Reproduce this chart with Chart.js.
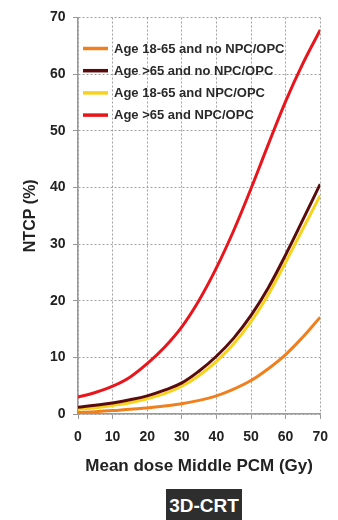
<!DOCTYPE html>
<html>
<head>
<meta charset="utf-8">
<script src="https://cdn.jsdelivr.net/npm/chart.js@4/dist/chart.umd.min.js"></script>
<style>
  html, body { margin: 0; padding: 0; background: #fff; }
  #wrap { position: relative; width: 338px; height: 520px; overflow: hidden; }
  #tag {
    position: absolute; left: 166px; top: 489px; width: 76px; height: 40px;
    background: #2e2e2e; color: #fff; font: bold 19px "Liberation Sans", Arial, sans-serif;
    text-align: center; line-height: 34px;
  }
</style>
</head>
<body>
<div id="wrap">
  <canvas id="chart" width="338" height="520"></canvas>
  <div id="tag">3D-CRT</div>
</div>
<script>
const doses = [0, 5, 10, 15, 20, 25, 30, 35, 40, 45, 50, 55, 60, 65, 70];
const young = [0.25, 0.4, 0.6, 0.85, 1.05, 1.4, 1.8, 2.4, 3.2, 4.4, 5.9, 8.0, 10.5, 13.6, 17.1];
const old = [1.2, 1.55, 1.95, 2.5, 3.2, 4.2, 5.5, 7.6, 10.2, 13.4, 17.4, 22.3, 28.1, 34.3, 40.6];
const youngNpc = [0.8, 1.1, 1.5, 2.0, 2.7, 3.6, 4.9, 6.8, 9.3, 12.4, 16.3, 21.1, 26.8, 32.7, 38.6];
const oldNpc = [3.0, 3.8, 4.9, 6.5, 8.9, 11.8, 15.4, 20.1, 25.8, 32.4, 39.8, 47.6, 55.2, 61.9, 67.8];

const seriesNames = ['Age 18-65 and no NPC/OPC', 'Age >65 and no NPC/OPC', 'Age 18-65 and NPC/OPC', 'Age >65 and NPC/OPC'];
const seriesColors = ['#f0801e', '#5a0c0c', '#f7d21a', '#e8161c'];
const seriesValues = [young, old, youngNpc, oldNpc];

const FONT = '"Liberation Sans", Arial, sans-serif';

// legend drawn inside the plot, top-left
const insideLegend = {
  id: 'insideLegend',
  afterDatasetsDraw(chart) {
    const ctx = chart.ctx;
    const area = chart.chartArea;
    ctx.save();
    ctx.font = 'bold 13px ' + FONT;
    ctx.textBaseline = 'middle';
    chart.data.datasets.forEach((ds, i) => {
      const y = area.top + 31 + i * 22.2;
      const x = area.left + 5;
      ctx.strokeStyle = ds.borderColor;
      ctx.lineWidth = 3.5;
      ctx.beginPath();
      ctx.moveTo(x, y);
      ctx.lineTo(x + 25, y);
      ctx.stroke();
      ctx.fillStyle = '#2a2a2a';
      ctx.fillText(ds.label, x + 31, y + 0.5);
    });
    ctx.restore();
  }
};

new Chart(document.getElementById('chart'), {
  type: 'line',
  data: {
    datasets: seriesNames.map((name, i) => ({
      label: name,
      data: doses.map((d, j) => ({x: d, y: seriesValues[i][j]})),
      borderColor: seriesColors[i],
      backgroundColor: seriesColors[i],
      borderWidth: 3,
      pointRadius: 0,
      tension: 0.4,
      fill: false
    }))
  },
  options: {
    responsive: false,
    animation: false,
    layout: { padding: { top: 17.5, right: 12.3, bottom: 0, left: 0 } },
    plugins: { legend: { display: false }, tooltip: { enabled: false } },
    scales: {
      x: {
        type: 'linear', min: 0, max: 70,
        afterFit: s => { s.height = 106; },
        ticks: { stepSize: 10, padding: 10, color: '#222', font: { family: FONT, size: 14, weight: 'bold' } },
        grid: { color: '#a0a0a0', tickColor: '#999', tickLength: 5, tickBorderDash: [], lineWidth: 1 },
        border: { color: '#999', width: 1.5, dash: [2, 2] },
        title: { display: true, text: 'Mean dose Middle PCM (Gy)', color: '#222',
                 font: { family: FONT, size: 17, weight: 'bold' }, padding: { top: 0, bottom: 43 } }
      },
      y: {
        min: 0, max: 70,
        afterFit: s => { s.width = 78; },
        ticks: { stepSize: 10, padding: 7.5, color: '#222', font: { family: FONT, size: 14, weight: 'bold' } },
        grid: { color: '#a0a0a0', tickColor: '#999', tickLength: 5, tickBorderDash: [], lineWidth: 1 },
        border: { color: '#999', width: 1.5, dash: [2, 2] },
        title: { display: true, text: 'NTCP (%)', color: '#222',
                 font: { family: FONT, size: 16, weight: 'bold' }, padding: { top: 21, bottom: 0 } }
      }
    }
  },
  plugins: [insideLegend]
});
</script>
</body>
</html>
